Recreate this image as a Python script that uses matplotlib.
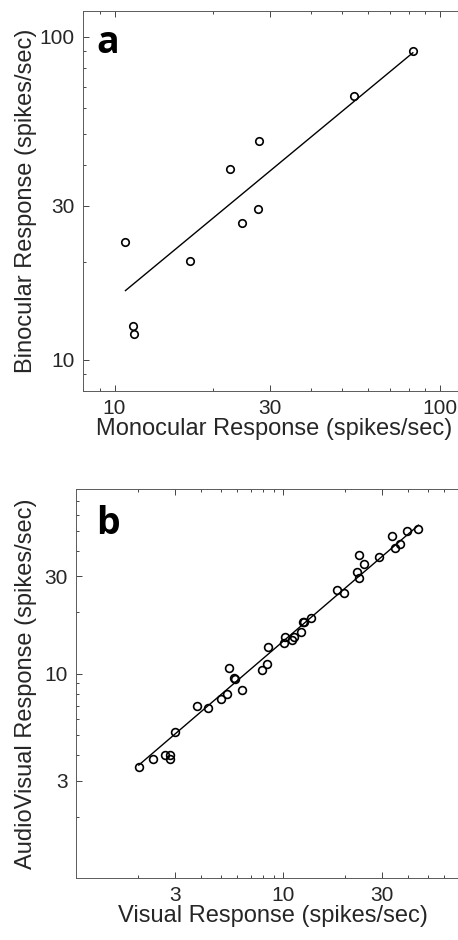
import numpy as np
import matplotlib
matplotlib.use('Agg')
import matplotlib.pyplot as plt
from matplotlib.ticker import FixedLocator, LogLocator, NullFormatter, FuncFormatter

plt.rcParams['font.family'] = ['Liberation Sans', 'DejaVu Sans']

# panel a: monocular vs binocular responses (spikes/sec)
mono = [10.8, 11.4, 11.5, 17.1, 22.6, 24.6, 27.6, 27.8, 54.5, 82.4]
bino = [23.2, 12.7, 12.0, 20.2, 38.8, 26.5, 29.2, 47.4, 65.7, 90.3]
fit_a = (0.834, 0.352)   # slope, intercept in log10 space

# panel b: visual vs audiovisual responses (spikes/sec)
visual = [2.01, 2.35, 2.68, 2.86, 2.86, 3.01, 3.83, 4.34, 5.0, 5.36,
          5.49, 5.80, 5.83, 6.31, 7.91, 8.33, 8.43, 10.06, 10.18, 11.04,
          11.33, 12.16, 12.43, 12.66, 13.69, 18.2, 19.67, 22.8, 23.3, 23.4,
          24.5, 29.2, 33.7, 34.8, 36.9, 39.9, 45.1]
audiovisual = [3.49, 3.83, 4.01, 4.01, 3.82, 5.20, 7.0, 6.81, 7.51, 7.98,
               10.66, 9.52, 9.41, 8.35, 10.46, 11.15, 13.51, 14.24, 15.18, 14.62,
               15.12, 16.07, 17.85, 17.98, 18.67, 25.6, 24.9, 31.6, 29.55, 38.3,
               34.4, 37.5, 47.3, 41.5, 43.2, 50.2, 51.4]
fit_b = (0.8686, 0.2904)

ticks_a = [10, 30, 100]
ticks_b = [3, 10, 30]

txt = '#262626'
tick_fs = 15
lab_fs = 17


def style(ax, lim_x, lim_y, ticks):
    ax.set_xscale('log')
    ax.set_yscale('log')
    ax.set_xlim(*lim_x)
    ax.set_ylim(*lim_y)
    for a in (ax.xaxis, ax.yaxis):
        a.set_major_locator(FixedLocator(ticks))
        a.set_major_formatter(FuncFormatter(lambda v, p: '%g' % v))
        a.set_minor_locator(LogLocator(base=10, subs=np.arange(2, 10)))
        a.set_minor_formatter(NullFormatter())
    ax.tick_params(which='both', direction='in', top=True, right=True,
                   width=0.6, color=txt, labelcolor=txt, labelsize=tick_fs)
    ax.tick_params(which='major', length=4.5)
    ax.tick_params(which='minor', length=2.5)
    ax.tick_params(axis='x', pad=5.5)
    ax.tick_params(axis='y', pad=6)
    for s in ax.spines.values():
        s.set_linewidth(0.7)
        s.set_color('#5a5a5a')


def draw(ax, x, y, fit, ms):
    xl = np.array([min(x), max(x)])
    yl = 10 ** (fit[1] + fit[0] * np.log10(xl))
    ax.plot(xl, yl, color='black', lw=1.0)
    ax.plot(x, y, 'o', mfc='none', mec='black', ms=ms, mew=1.2)


fig = plt.figure(figsize=(4.58, 9.4), dpi=100)

ax1 = fig.add_axes([83 / 458, 1 - 391 / 940, 383 / 458, 380 / 940])
style(ax1, (8, 120), (8, 120), ticks_a)
draw(ax1, mono, bino, fit_a, 5.4)
ax1.set_xlabel('Monocular Response (spikes/sec)', fontsize=lab_fs, color=txt, labelpad=0)
ax1.set_ylabel('Binocular Response (spikes/sec)', fontsize=lab_fs, color=txt, labelpad=2)
ax1.text(0.035, 0.965, 'a', transform=ax1.transAxes, fontsize=27, fontweight='bold',
         family='Open Sans', va='top', ha='left')

ax2 = fig.add_axes([76 / 458, 1 - 878.3 / 940, 394 / 458, 389 / 940])
style(ax2, (1, 80), (1, 80), ticks_b)
draw(ax2, visual, audiovisual, fit_b, 5.6)
ax2.set_xlabel('Visual Response (spikes/sec)', fontsize=lab_fs, color=txt, labelpad=0)
ax2.set_ylabel('AudioVisual Response (spikes/sec)', fontsize=lab_fs, color=txt, labelpad=5)
ax2.text(0.05, 0.96, 'b', transform=ax2.transAxes, fontsize=27, fontweight='bold',
         family='Open Sans', va='top', ha='left')

fig.savefig('out.png', dpi=100)
